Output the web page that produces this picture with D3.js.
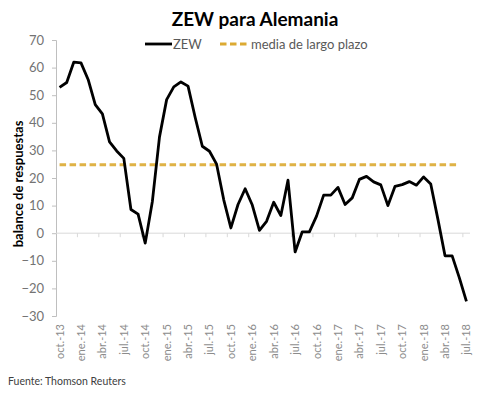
<!DOCTYPE html>
<meta charset="utf-8">
<script src="https://d3js.org/d3.v7.min.js"></script>
<style>
  body { margin: 0; background: #fff; }
  text { font-family: "Lato", "Open Sans", sans-serif; }
</style>
<div id="chart"></div>
<script>
  // months oct-13 .. jul-18
  var meses = ["ene.", "feb.", "mar.", "abr.", "may.", "jun.", "jul.", "ago.", "sep.", "oct.", "nov.", "dic."];
  var categories = [];
  for (var i = 0; i < 58; i++) {
    var m = (9 + i) % 12, yr = 13 + Math.floor((9 + i) / 12);
    categories.push(meses[m] + "-" + yr);
  }
  var zew = [52.8, 54.6, 62.0, 61.7, 55.7, 46.6, 43.2, 33.1, 29.8, 27.1, 8.6, 6.9,
    -3.6, 11.5, 34.9, 48.4, 53.0, 54.8, 53.3, 41.9, 31.5, 29.7, 25.0, 12.1,
    1.9, 10.4, 16.1, 10.2, 1.0, 4.3, 11.2, 6.4, 19.2, -6.8, 0.5, 0.5,
    6.2, 13.8, 13.8, 16.6, 10.4, 12.8, 19.5, 20.6, 18.6, 17.5, 10.0, 17.0,
    17.6, 18.7, 17.4, 20.4, 17.8, 5.1, -8.2, -8.2, -16.1, -24.7];
  var mediaLargoPlazo = 24.8;
  var yTicks = [-30, -20, -10, 0, 10, 20, 30, 40, 50, 60, 70];

  var W = 477, H = 396;
  var svg = d3.select("#chart").append("svg")
    .attr("width", W).attr("height", H);

  var x = d3.scaleBand().domain(categories).range([56, 470]).padding(0);
  var y = d3.scaleLinear().domain([-30, 70]).range([316, 40]);
  var cx = function (c) { return x(c) + x.bandwidth() / 2; };

  // title
  svg.append("text").attr("x", 255).attr("y", 26)
    .attr("text-anchor", "middle")
    .style("font-size", "19px").style("font-weight", "bold").style("fill", "#000")
    .text("ZEW para Alemania");

  // legend
  var lg = svg.append("g");
  lg.append("line").attr("x1", 145).attr("x2", 172).attr("y1", 44).attr("y2", 44)
    .style("stroke", "#000").style("stroke-width", 2.8);
  lg.append("text").attr("x", 173).attr("y", 48.5)
    .style("font-size", "13px").style("fill", "#595959").text("ZEW");
  lg.append("line").attr("x1", 220).attr("x2", 250).attr("y1", 44).attr("y2", 44)
    .style("stroke", "#dcaa32").style("stroke-width", 2.8).style("stroke-dasharray", "6.5,3.5");
  lg.append("text").attr("x", 251).attr("y", 48.5)
    .style("font-size", "13px").style("fill", "#595959").text("media de largo plazo");

  // y axis
  var gY = svg.append("g").attr("transform", "translate(56,0)")
    .call(d3.axisLeft(y).tickValues(yTicks).tickSize(4).tickPadding(8));
  gY.select(".domain").style("stroke", "#bfbfbf");
  gY.selectAll(".tick line").style("stroke", "#bfbfbf");
  gY.selectAll(".tick text").style("font-size", "13px").style("fill", "#737373")
    .style("font-family", "Lato, sans-serif");

  // zero line with category ticks
  var gX = svg.append("g").attr("transform", "translate(0," + y(0) + ")");
  gX.append("line").attr("x1", 56).attr("x2", 470).style("stroke", "#d9d9d9").style("stroke-width", 1);
  gX.selectAll(".tk").data(categories.filter(function (d, i) { return i % 3 === 0 && i > 0; }))
    .enter().append("line")
    .attr("x1", function (d) { return x(d); }).attr("x2", function (d) { return x(d); })
    .attr("y1", 0).attr("y2", 4)
    .style("stroke", "#d9d9d9");

  // x labels at bottom
  svg.append("g").selectAll("text")
    .data(categories.filter(function (d, i) { return i % 3 === 0; }))
    .enter().append("text")
    .attr("transform", function (d) { return "translate(" + (cx(d) + 4) + ",324) rotate(-90)"; })
    .attr("text-anchor", "end")
    .style("font-size", "11px").style("fill", "#8c8c8c")
    .text(function (d) { return d; });

  // long-term mean
  svg.append("line")
    .attr("x1", cx(categories[0])).attr("x2", cx(categories[categories.length - 2]) - 2)
    .attr("y1", y(mediaLargoPlazo)).attr("y2", y(mediaLargoPlazo))
    .style("stroke", "#dcaa32").style("stroke-width", 2.8)
    .style("stroke-dasharray", "6.5,3.5").style("opacity", 0.9);

  // ZEW line
  var line = d3.line()
    .x(function (d, i) { return cx(categories[i]); })
    .y(function (d) { return y(d); });
  svg.append("path").datum(zew)
    .attr("d", line)
    .style("fill", "none").style("stroke", "#000").style("stroke-width", 2.8)
    .style("stroke-linejoin", "round");

  // y title
  svg.append("text")
    .attr("transform", "translate(23,184) rotate(-90)")
    .attr("text-anchor", "middle")
    .style("font-size", "13px").style("font-weight", "bold").style("fill", "#000")
    .text("balance de respuestas");

  // source
  svg.append("text").attr("x", 8).attr("y", 385)
    .style("font-size", "10.5px").style("fill", "#404040")
    .text("Fuente: Thomson Reuters");
</script>
